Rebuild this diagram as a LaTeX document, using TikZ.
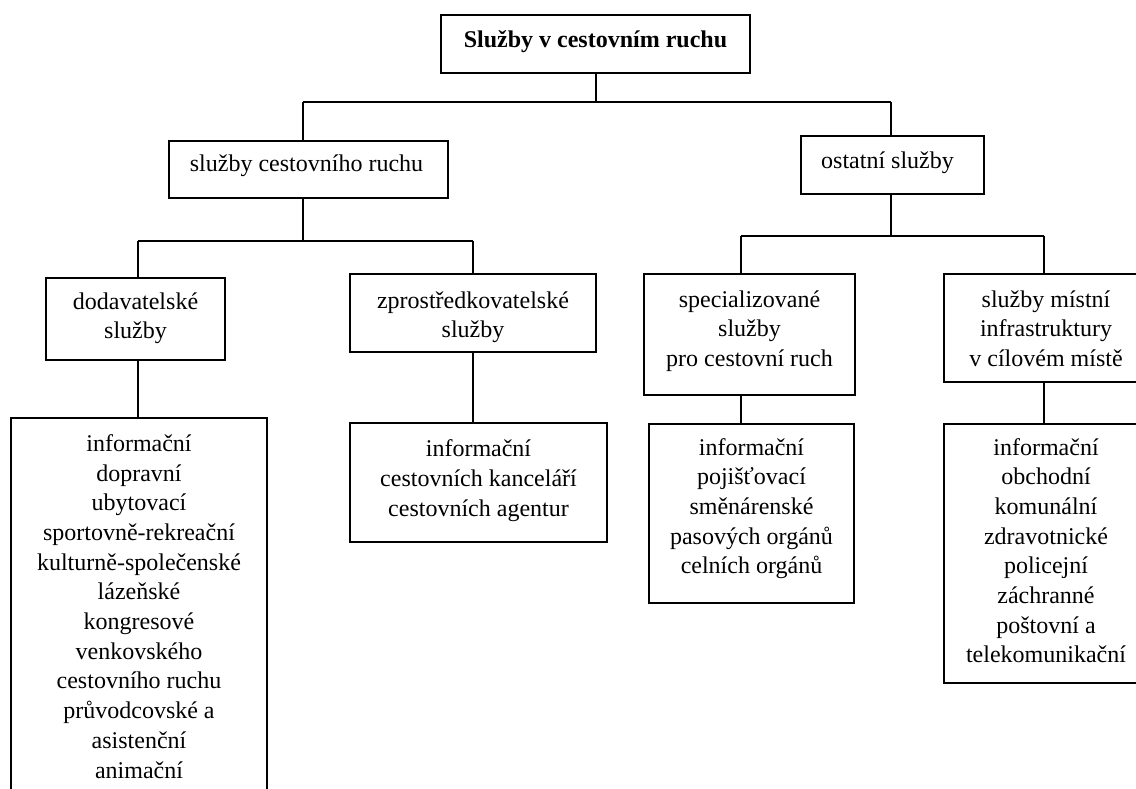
\documentclass[tikz,border=0pt]{standalone}
\usepackage{fontspec}
\setmainfont{Liberation Serif}
\begin{document}
\begin{tikzpicture}[x=1pt,y=-1pt,
  box/.style={draw, line width=1.3pt, inner sep=0pt, outer sep=0pt, anchor=north west},
  txt/.style={anchor=base, align=center, inner sep=0pt, font=\fontsize{24}{29.7}\selectfont},
  conn/.style={line width=1.3pt}]
\clip (0,0) rectangle (1136,789);
\fill[white] (0,0) rectangle (1136,789);
% boxes
\node[box, minimum width=309pt, minimum height=58pt] (top) at (441,15) {};
\node[box, minimum width=279pt, minimum height=57pt] (scr) at (169,141) {};
\node[box, minimum width=183pt, minimum height=58pt] (ost) at (801,136) {};
\node[box, minimum width=179pt, minimum height=82pt] (dod) at (46,278) {};
\node[box, minimum width=246pt, minimum height=78pt] (zpr) at (350,274) {};
\node[box, minimum width=211pt, minimum height=121pt] (spe) at (644,274) {};
\node[box, minimum width=204pt, minimum height=108pt] (mis) at (944,274) {};
\node[box, minimum width=256pt, minimum height=400pt] (dodi) at (11,418) {};
\node[box, minimum width=257pt, minimum height=119pt] (zpri) at (350,423) {};
\node[box, minimum width=205pt, minimum height=179pt] (spei) at (649,424) {};
\node[box, minimum width=204pt, minimum height=259pt] (misi) at (944,424) {};
% texts (base anchor = baseline of last line)
\node[txt, font=\fontsize{24}{29.7}\selectfont\bfseries] (ttop) at (595.5,48) {Služby v cestovním ruchu};
\node[txt] (tscr) at (306.5,172) {služby cestovního ruchu};
\node[txt] (tost) at (887.5,168) {ostatní služby};
\node[txt] (tdod) at (135.5,338.7) {dodavatelské\\služby};
\node[txt] (tzpr) at (473,337.7) {zprostředkovatelské\\služby};
\node[txt] (tspe) at (749.5,366.4) {specializované\\služby\\pro cestovní ruch};
\node[txt] (tmis) at (1046,366.4) {služby místní\\infrastruktury\\v cílovém místě};
\node[txt] (tdodi) at (139,778) {informační\\dopravní\\ubytovací\\sportovně-rekreační\\kulturně-společenské\\lázeňské\\kongresové\\venkovského\\cestovního ruchu\\průvodcovské a\\asistenční\\animační};
\node[txt] (tzpri) at (478.5,516) {informační\\cestovních kanceláří\\cestovních agentur};
\node[txt] (tspei) at (751.5,573.8) {informační\\pojišťovací\\směnárenské\\pasových orgánů\\celních orgánů};
\node[txt] (tmisi) at (1046,662.9) {informační\\obchodní\\komunální\\zdravotnické\\policejní\\záchranné\\poštovní a\\telekomunikační};
% junction coordinates
\coordinate (j0) at (596,102);
\coordinate (j0l) at (303,102);
\coordinate (j0r) at (891,102);
\coordinate (j1) at (303,241);
\coordinate (j1l) at (138,241);
\coordinate (j1r) at (473,241);
\coordinate (j2) at (891,236);
\coordinate (j2l) at (741,236);
\coordinate (j2r) at (1044,236);
% connectors
\draw[conn] (top.south -| j0) -- (j0);
\draw[conn] (j0l) -- (j0r);
\draw[conn] (j0l) -- (scr.north -| j0l);
\draw[conn] (j0r) -- (ost.north -| j0r);
\draw[conn] (scr.south -| j1) -- (j1);
\draw[conn] (j1l) -- (j1r);
\draw[conn] (j1l) -- (dod.north -| j1l);
\draw[conn] (j1r) -- (zpr.north -| j1r);
\draw[conn] (ost.south -| j2) -- (j2);
\draw[conn] (j2l) -- (j2r);
\draw[conn] (j2l) -- (spe.north -| j2l);
\draw[conn] (j2r) -- (mis.north -| j2r);
\draw[conn] (dod.south -| j1l) -- (dodi.north -| j1l);
\draw[conn] (zpr.south -| j1r) -- (zpri.north -| j1r);
\draw[conn] (spe.south -| j2l) -- (spei.north -| j2l);
\draw[conn] (mis.south -| j2r) -- (misi.north -| j2r);
\end{tikzpicture}
\end{document}
